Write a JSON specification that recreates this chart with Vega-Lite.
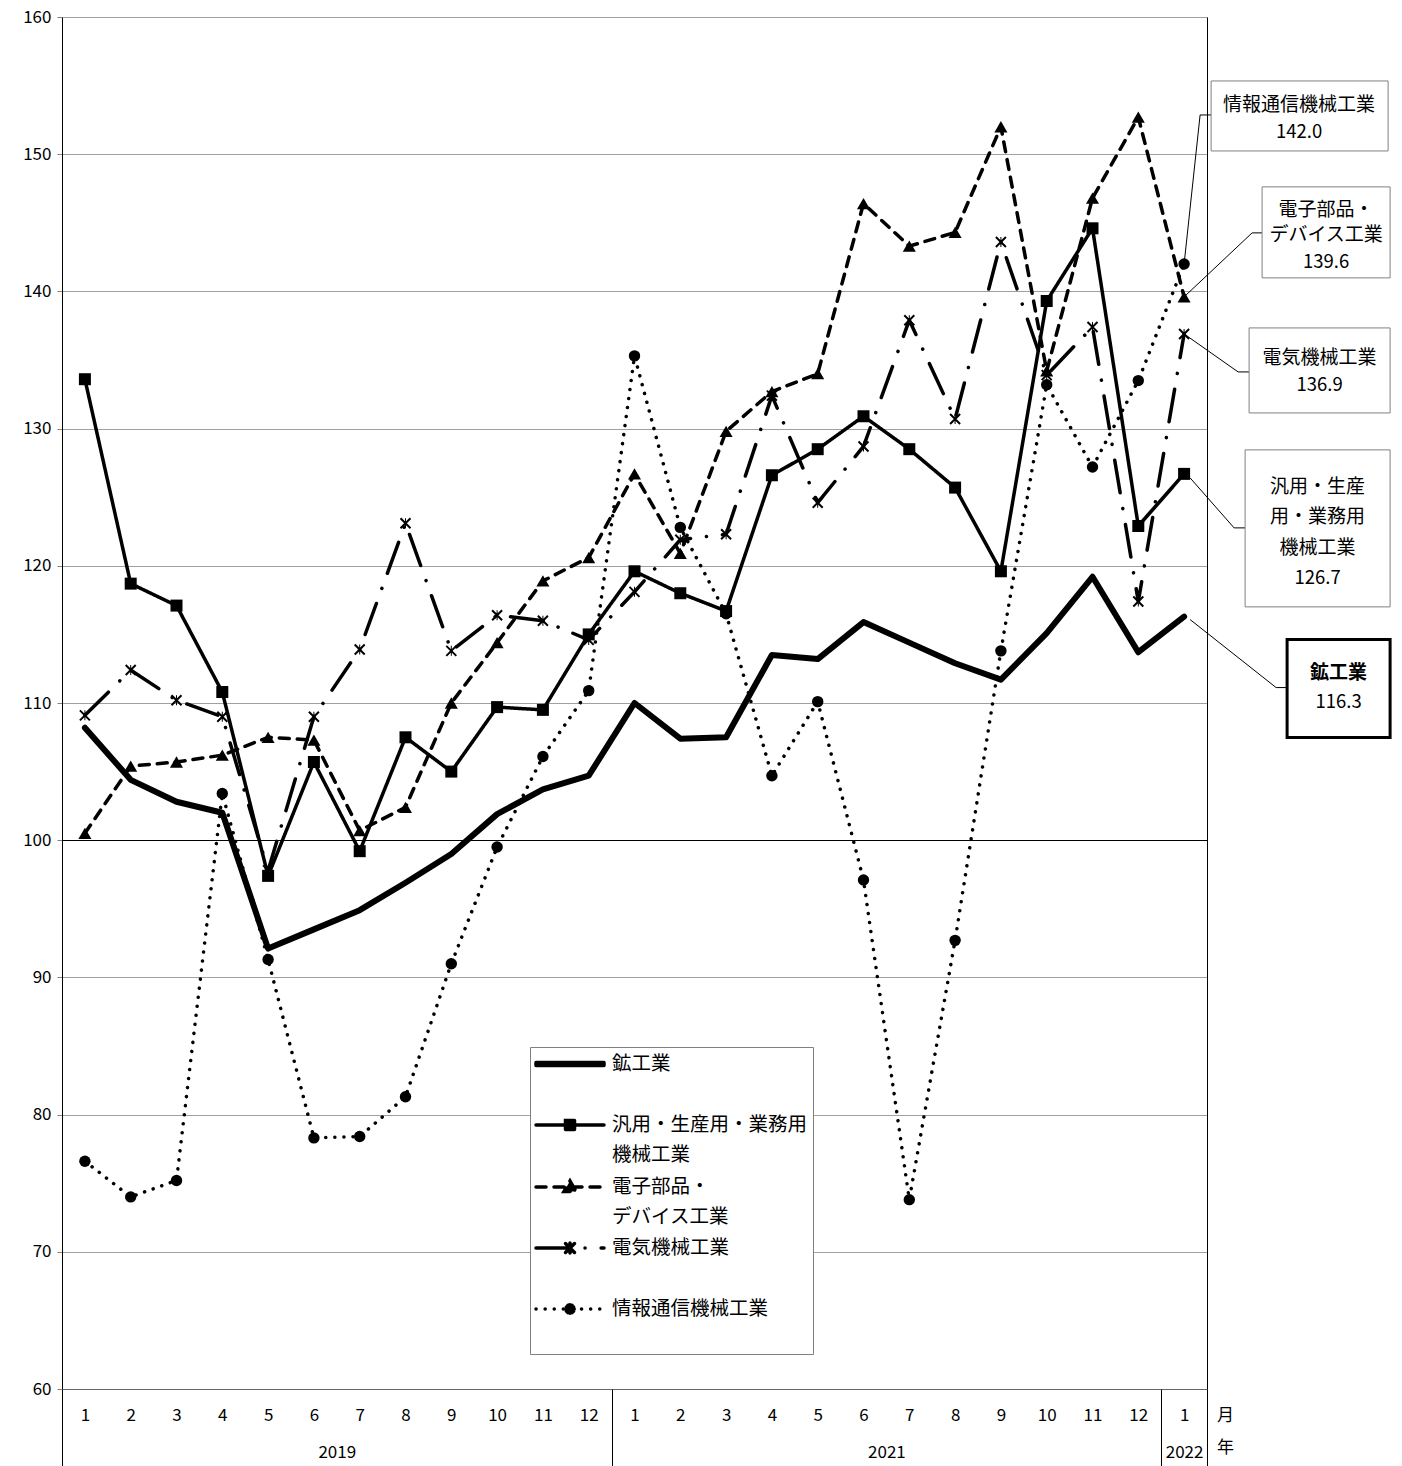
{
 "$schema": "https://vega.github.io/schema/vega-lite/v6.json",
 "width": 1145, "height": 1372,
 "autosize": {"type": "none"},
 "padding": {"left": 62, "top": 17, "right": 195, "bottom": 77},
 "background": "#ffffff",
 "config": {"view": {"stroke": null}, "font": "Noto Sans CJK JP",
   "axis": {"labelFont": "Noto Sans CJK JP", "titleFont": "Noto Sans CJK JP", "labelColor": "#000000", "titleColor": "#000000"},
   "legend": {"labelFont": "Noto Sans CJK JP"}},
 "datasets": {
  "main": [
{"series":"鉱工業","year":2019,"month":1,"t":1,"value":108.2},
{"series":"鉱工業","year":2019,"month":2,"t":2,"value":104.4},
{"series":"鉱工業","year":2019,"month":3,"t":3,"value":102.8},
{"series":"鉱工業","year":2019,"month":4,"t":4,"value":102.0},
{"series":"鉱工業","year":2019,"month":5,"t":5,"value":92.1},
{"series":"鉱工業","year":2019,"month":6,"t":6,"value":93.5},
{"series":"鉱工業","year":2019,"month":7,"t":7,"value":94.9},
{"series":"鉱工業","year":2019,"month":8,"t":8,"value":96.9},
{"series":"鉱工業","year":2019,"month":9,"t":9,"value":99.0},
{"series":"鉱工業","year":2019,"month":10,"t":10,"value":101.9},
{"series":"鉱工業","year":2019,"month":11,"t":11,"value":103.7},
{"series":"鉱工業","year":2019,"month":12,"t":12,"value":104.7},
{"series":"鉱工業","year":2021,"month":1,"t":13,"value":110.0},
{"series":"鉱工業","year":2021,"month":2,"t":14,"value":107.4},
{"series":"鉱工業","year":2021,"month":3,"t":15,"value":107.5},
{"series":"鉱工業","year":2021,"month":4,"t":16,"value":113.5},
{"series":"鉱工業","year":2021,"month":5,"t":17,"value":113.2},
{"series":"鉱工業","year":2021,"month":6,"t":18,"value":115.9},
{"series":"鉱工業","year":2021,"month":7,"t":19,"value":114.4},
{"series":"鉱工業","year":2021,"month":8,"t":20,"value":112.9},
{"series":"鉱工業","year":2021,"month":9,"t":21,"value":111.7},
{"series":"鉱工業","year":2021,"month":10,"t":22,"value":115.1},
{"series":"鉱工業","year":2021,"month":11,"t":23,"value":119.2},
{"series":"鉱工業","year":2021,"month":12,"t":24,"value":113.7},
{"series":"鉱工業","year":2022,"month":1,"t":25,"value":116.3},
{"series":"汎用・生産用・業務用機械工業","year":2019,"month":1,"t":1,"value":133.6},
{"series":"汎用・生産用・業務用機械工業","year":2019,"month":2,"t":2,"value":118.7},
{"series":"汎用・生産用・業務用機械工業","year":2019,"month":3,"t":3,"value":117.1},
{"series":"汎用・生産用・業務用機械工業","year":2019,"month":4,"t":4,"value":110.8},
{"series":"汎用・生産用・業務用機械工業","year":2019,"month":5,"t":5,"value":97.4},
{"series":"汎用・生産用・業務用機械工業","year":2019,"month":6,"t":6,"value":105.7},
{"series":"汎用・生産用・業務用機械工業","year":2019,"month":7,"t":7,"value":99.2},
{"series":"汎用・生産用・業務用機械工業","year":2019,"month":8,"t":8,"value":107.5},
{"series":"汎用・生産用・業務用機械工業","year":2019,"month":9,"t":9,"value":105.0},
{"series":"汎用・生産用・業務用機械工業","year":2019,"month":10,"t":10,"value":109.7},
{"series":"汎用・生産用・業務用機械工業","year":2019,"month":11,"t":11,"value":109.5},
{"series":"汎用・生産用・業務用機械工業","year":2019,"month":12,"t":12,"value":115.0},
{"series":"汎用・生産用・業務用機械工業","year":2021,"month":1,"t":13,"value":119.6},
{"series":"汎用・生産用・業務用機械工業","year":2021,"month":2,"t":14,"value":118.0},
{"series":"汎用・生産用・業務用機械工業","year":2021,"month":3,"t":15,"value":116.7},
{"series":"汎用・生産用・業務用機械工業","year":2021,"month":4,"t":16,"value":126.6},
{"series":"汎用・生産用・業務用機械工業","year":2021,"month":5,"t":17,"value":128.5},
{"series":"汎用・生産用・業務用機械工業","year":2021,"month":6,"t":18,"value":130.9},
{"series":"汎用・生産用・業務用機械工業","year":2021,"month":7,"t":19,"value":128.5},
{"series":"汎用・生産用・業務用機械工業","year":2021,"month":8,"t":20,"value":125.7},
{"series":"汎用・生産用・業務用機械工業","year":2021,"month":9,"t":21,"value":119.6},
{"series":"汎用・生産用・業務用機械工業","year":2021,"month":10,"t":22,"value":139.3},
{"series":"汎用・生産用・業務用機械工業","year":2021,"month":11,"t":23,"value":144.6},
{"series":"汎用・生産用・業務用機械工業","year":2021,"month":12,"t":24,"value":122.9},
{"series":"汎用・生産用・業務用機械工業","year":2022,"month":1,"t":25,"value":126.7},
{"series":"電子部品・デバイス工業","year":2019,"month":1,"t":1,"value":100.5},
{"series":"電子部品・デバイス工業","year":2019,"month":2,"t":2,"value":105.4},
{"series":"電子部品・デバイス工業","year":2019,"month":3,"t":3,"value":105.7},
{"series":"電子部品・デバイス工業","year":2019,"month":4,"t":4,"value":106.2},
{"series":"電子部品・デバイス工業","year":2019,"month":5,"t":5,"value":107.5},
{"series":"電子部品・デバイス工業","year":2019,"month":6,"t":6,"value":107.3},
{"series":"電子部品・デバイス工業","year":2019,"month":7,"t":7,"value":100.7},
{"series":"電子部品・デバイス工業","year":2019,"month":8,"t":8,"value":102.4},
{"series":"電子部品・デバイス工業","year":2019,"month":9,"t":9,"value":110.0},
{"series":"電子部品・デバイス工業","year":2019,"month":10,"t":10,"value":114.4},
{"series":"電子部品・デバイス工業","year":2019,"month":11,"t":11,"value":118.9},
{"series":"電子部品・デバイス工業","year":2019,"month":12,"t":12,"value":120.6},
{"series":"電子部品・デバイス工業","year":2021,"month":1,"t":13,"value":126.7},
{"series":"電子部品・デバイス工業","year":2021,"month":2,"t":14,"value":120.9},
{"series":"電子部品・デバイス工業","year":2021,"month":3,"t":15,"value":129.8},
{"series":"電子部品・デバイス工業","year":2021,"month":4,"t":16,"value":132.7},
{"series":"電子部品・デバイス工業","year":2021,"month":5,"t":17,"value":134.0},
{"series":"電子部品・デバイス工業","year":2021,"month":6,"t":18,"value":146.4},
{"series":"電子部品・デバイス工業","year":2021,"month":7,"t":19,"value":143.3},
{"series":"電子部品・デバイス工業","year":2021,"month":8,"t":20,"value":144.3},
{"series":"電子部品・デバイス工業","year":2021,"month":9,"t":21,"value":152.0},
{"series":"電子部品・デバイス工業","year":2021,"month":10,"t":22,"value":134.2},
{"series":"電子部品・デバイス工業","year":2021,"month":11,"t":23,"value":146.8},
{"series":"電子部品・デバイス工業","year":2021,"month":12,"t":24,"value":152.7},
{"series":"電子部品・デバイス工業","year":2022,"month":1,"t":25,"value":139.6},
{"series":"電気機械工業","year":2019,"month":1,"t":1,"value":109.1},
{"series":"電気機械工業","year":2019,"month":2,"t":2,"value":112.4},
{"series":"電気機械工業","year":2019,"month":3,"t":3,"value":110.2},
{"series":"電気機械工業","year":2019,"month":4,"t":4,"value":109.0},
{"series":"電気機械工業","year":2019,"month":5,"t":5,"value":97.8},
{"series":"電気機械工業","year":2019,"month":6,"t":6,"value":109.0},
{"series":"電気機械工業","year":2019,"month":7,"t":7,"value":113.9},
{"series":"電気機械工業","year":2019,"month":8,"t":8,"value":123.1},
{"series":"電気機械工業","year":2019,"month":9,"t":9,"value":113.8},
{"series":"電気機械工業","year":2019,"month":10,"t":10,"value":116.4},
{"series":"電気機械工業","year":2019,"month":11,"t":11,"value":116.0},
{"series":"電気機械工業","year":2019,"month":12,"t":12,"value":114.6},
{"series":"電気機械工業","year":2021,"month":1,"t":13,"value":118.1},
{"series":"電気機械工業","year":2021,"month":2,"t":14,"value":121.9},
{"series":"電気機械工業","year":2021,"month":3,"t":15,"value":122.3},
{"series":"電気機械工業","year":2021,"month":4,"t":16,"value":132.4},
{"series":"電気機械工業","year":2021,"month":5,"t":17,"value":124.6},
{"series":"電気機械工業","year":2021,"month":6,"t":18,"value":128.7},
{"series":"電気機械工業","year":2021,"month":7,"t":19,"value":137.9},
{"series":"電気機械工業","year":2021,"month":8,"t":20,"value":130.7},
{"series":"電気機械工業","year":2021,"month":9,"t":21,"value":143.6},
{"series":"電気機械工業","year":2021,"month":10,"t":22,"value":133.9},
{"series":"電気機械工業","year":2021,"month":11,"t":23,"value":137.4},
{"series":"電気機械工業","year":2021,"month":12,"t":24,"value":117.4},
{"series":"電気機械工業","year":2022,"month":1,"t":25,"value":136.9},
{"series":"情報通信機械工業","year":2019,"month":1,"t":1,"value":76.6},
{"series":"情報通信機械工業","year":2019,"month":2,"t":2,"value":74.0},
{"series":"情報通信機械工業","year":2019,"month":3,"t":3,"value":75.2},
{"series":"情報通信機械工業","year":2019,"month":4,"t":4,"value":103.4},
{"series":"情報通信機械工業","year":2019,"month":5,"t":5,"value":91.3},
{"series":"情報通信機械工業","year":2019,"month":6,"t":6,"value":78.3},
{"series":"情報通信機械工業","year":2019,"month":7,"t":7,"value":78.4},
{"series":"情報通信機械工業","year":2019,"month":8,"t":8,"value":81.3},
{"series":"情報通信機械工業","year":2019,"month":9,"t":9,"value":91.0},
{"series":"情報通信機械工業","year":2019,"month":10,"t":10,"value":99.5},
{"series":"情報通信機械工業","year":2019,"month":11,"t":11,"value":106.1},
{"series":"情報通信機械工業","year":2019,"month":12,"t":12,"value":110.9},
{"series":"情報通信機械工業","year":2021,"month":1,"t":13,"value":135.3},
{"series":"情報通信機械工業","year":2021,"month":2,"t":14,"value":122.8},
{"series":"情報通信機械工業","year":2021,"month":3,"t":15,"value":116.5},
{"series":"情報通信機械工業","year":2021,"month":4,"t":16,"value":104.7},
{"series":"情報通信機械工業","year":2021,"month":5,"t":17,"value":110.1},
{"series":"情報通信機械工業","year":2021,"month":6,"t":18,"value":97.1},
{"series":"情報通信機械工業","year":2021,"month":7,"t":19,"value":73.8},
{"series":"情報通信機械工業","year":2021,"month":8,"t":20,"value":92.7},
{"series":"情報通信機械工業","year":2021,"month":9,"t":21,"value":113.8},
{"series":"情報通信機械工業","year":2021,"month":10,"t":22,"value":133.2},
{"series":"情報通信機械工業","year":2021,"month":11,"t":23,"value":127.2},
{"series":"情報通信機械工業","year":2021,"month":12,"t":24,"value":133.5},
{"series":"情報通信機械工業","year":2022,"month":1,"t":25,"value":142.0}
  ],
  "callouts": [
{"series":"情報通信機械工業","t":25,"value":142.0,"label":"情報通信機械工業"},
{"series":"電子部品・デバイス工業","t":25,"value":139.6,"label":"電子部品・\nデバイス工業"},
{"series":"電気機械工業","t":25,"value":136.9,"label":"電気機械工業"},
{"series":"汎用・生産用・業務用機械工業","t":25,"value":126.7,"label":"汎用・生産\n用・業務用\n機械工業"},
{"series":"鉱工業","t":25,"value":116.3,"label":"鉱工業"}
  ]
 },
 "data": {"name": "main"},
 "resolve": {"axis": {"x": "independent", "y": "independent"}},
 "layer": [
  {
   "transform": [{"filter": {"field": "series", "equal": "鉱工業"}}],
   "mark": {"type": "line", "color": "#000000", "strokeWidth": 6, "strokeCap": "round", "strokeJoin": "round"},
   "encoding": {
    "x": {"field": "t", "type": "quantitative", "scale": {"domain": [0.5, 25.5], "nice": false, "zero": false},
      "axis": {"orient": "bottom", "values": [1,2,3,4,5,6,7,8,9,10,11,12,13,14,15,16,17,18,19,20,21,22,23,24,25],
        "labelExpr": "'' + (datum.value <= 12 ? datum.value : datum.value <= 24 ? datum.value - 12 : 1)",
        "grid": false, "ticks": false, "tickSize": 0, "domain": true, "domainColor": "#666666",
        "labelFontSize": 17, "labelBaseline": "middle", "labelPadding": 26, "labelFlush": false, "labelOverlap": false,
        "title": "月", "titleFontSize": 17, "titleFontWeight": "normal", "titleX": 1163, "titleY": 26,
        "titleAlign": "center", "titleBaseline": "middle", "titleAngle": 0}},
    "y": {"field": "value", "type": "quantitative", "scale": {"domain": [60, 160], "nice": false, "zero": false},
      "axis": {"orient": "left", "values": [60,70,80,90,100,110,120,130,140,150,160], "grid": true,
        "gridColor": {"condition": {"test": "datum.value === 100", "value": "#000000"}, "value": "#a0a0a0"},
        "domain": true, "domainColor": "#000000", "ticks": true, "tickSize": 5, "tickColor": "#808080",
        "labelFontSize": 17, "labelPadding": 6, "labelFlush": false, "title": null}}
   }
  },
  {
   "mark": {"type": "line", "color": "#000000", "strokeWidth": 3.5, "strokeCap": "round", "strokeJoin": "round"},
   "encoding": {
    "x": {"field": "t", "type": "quantitative",
      "axis": {"orient": "bottom", "values": [6.5, 18.5, 25],
        "labelExpr": "datum.value < 12 ? '2019' : datum.value < 24 ? '2021' : '2022'",
        "grid": false, "ticks": false, "tickSize": 0, "domain": false,
        "labelFontSize": 17, "labelBaseline": "middle", "labelPadding": 63, "labelFlush": false, "labelOverlap": false,
        "title": "年", "titleFontSize": 17, "titleFontWeight": "normal", "titleX": 1163, "titleY": 58,
        "titleAlign": "center", "titleBaseline": "middle", "titleAngle": 0}},
    "y": {"field": "value", "type": "quantitative", "axis": null},
    "strokeDash": {"field": "series", "type": "nominal",
      "scale": {"domain": ["鉱工業", "汎用・生産用・業務用機械工業", "電子部品・デバイス工業", "電気機械工業", "情報通信機械工業"],
        "range": [[1, 0], [1, 0], [10, 8], [33, 16, 0.1, 16], [0.1, 9]]},
      "legend": {"orient": "none", "legendX": 468, "legendY": 1030, "title": null, "direction": "vertical",
        "fillColor": "#ffffff", "strokeColor": "#808080", "padding": 5,
        "symbolSize": 400, "symbolStrokeWidth": 3.5, "symbolOffset": 23, "labelOffset": 30,
        "labelFontSize": 19.5, "labelLimit": 400, "rowPadding": 9, "labelBaseline": "middle", "labelColor": "#000000",
        "labelExpr": "datum.value === '汎用・生産用・業務用機械工業' ? ['汎用・生産用・業務用', '機械工業'] : datum.value === '電子部品・デバイス工業' ? ['電子部品・', 'デバイス工業'] : [datum.label, '']",
        "encoding": {
          "symbols": {
            "shape": {"condition": [
              {"test": "datum.value === '鉱工業'", "value": "M-3.4,-0.15L3.4,-0.15L3.4,0.15L-3.4,0.15Z"},
              {"test": "datum.value === '汎用・生産用・業務用機械工業'", "value": "M-3.4,0L3.4,0M-0.45,-0.45L0.45,-0.45L0.45,0.45L-0.45,0.45Z"},
              {"test": "datum.value === '電子部品・デバイス工業'", "value": "M-3.4,0L3.4,0M0,-0.6L0.6,0.45L-0.6,0.45Z"},
              {"test": "datum.value === '電気機械工業'", "value": "M-3.4,0L3.4,0M-0.45,-0.45L0.45,0.45M-0.45,0.45L0.45,-0.45M0,-0.5L0,0.5"}
            ], "value": "M-3.4,0L3.4,0M0.42,0L0.364,0.21L0.21,0.364L0,0.42L-0.21,0.364L-0.364,0.21L-0.42,0L-0.364,-0.21L-0.21,-0.364L0,-0.42L0.21,-0.364L0.364,-0.21ZM0.364,0.21l0,0.01M0.21,0.364l0,0.01M0,0.42l0,0.01M-0.21,0.364l0,0.01M-0.364,0.21l0,0.01M-0.42,0l0,0.01M-0.364,-0.21l0,0.01M-0.21,-0.364l0,0.01M0,-0.42l0,0.01M0.21,-0.364l0,0.01M0.364,-0.21l0,0.01"},
            "fill": {"value": "#000000"}, "stroke": {"value": "#000000"}, "strokeCap": {"value": "round"}, "opacity": {"value": 1}},
          "labels": {"lineHeight": {"value": 30}}
        }}}
   }
  },
  {
   "transform": [{"filter": {"field": "series", "equal": "汎用・生産用・業務用機械工業"}}],
   "mark": {"type": "point", "shape": "square", "size": 144, "filled": true, "color": "#000000", "opacity": 1},
   "encoding": {
    "x": {"field": "t", "type": "quantitative",
      "axis": {"orient": "bottom", "values": [0.5, 12.5, 24.5, 25.5], "labels": false, "grid": false, "domain": false,
        "ticks": true, "tickSize": 77, "tickColor": "#000000", "tickWidth": 1, "title": null}},
    "y": {"field": "value", "type": "quantitative", "axis": null}
   }
  },
  {
   "transform": [{"filter": {"field": "series", "equal": "電子部品・デバイス工業"}}],
   "mark": {"type": "point", "shape": "triangle-up", "size": 170, "filled": true, "color": "#000000", "opacity": 1},
   "encoding": {
    "x": {"field": "t", "type": "quantitative", "axis": null},
    "y": {"field": "value", "type": "quantitative",
      "axis": {"orient": "right", "labels": false, "ticks": false, "grid": false, "domain": true, "domainColor": "#000000", "title": null}}
   }
  },
  {
   "transform": [{"filter": {"field": "series", "equal": "電気機械工業"}}],
   "mark": {"type": "point", "shape": "M-1.14,-0.86L0.86,1.14L1.14,0.86L-0.86,-1.14ZM-0.86,1.14L1.14,-0.86L0.86,-1.14L-1.14,0.86ZM-0.1,-1L-0.1,1L0.1,1L0.1,-1Z", "size": 100, "filled": true, "color": "#000000", "opacity": 1},
   "encoding": {
    "x": {"field": "t", "type": "quantitative", "axis": null},
    "y": {"field": "value", "type": "quantitative", "axis": null}
   }
  },
  {
   "transform": [{"filter": {"field": "series", "equal": "情報通信機械工業"}}],
   "mark": {"type": "point", "shape": "circle", "size": 130, "filled": true, "color": "#000000", "opacity": 1},
   "encoding": {
    "x": {"field": "t", "type": "quantitative", "axis": null},
    "y": {"field": "value", "type": "quantitative", "axis": null}
   }
  },
  {
   "data": {"name": "callouts"},
   "transform": [{"filter": {"field": "series", "equal": "情報通信機械工業"}}],
   "encoding": {
    "x": {"field": "t", "type": "quantitative", "axis": null},
    "y": {"field": "value", "type": "quantitative", "axis": null}
   },
   "layer": [
    {"mark": {"type": "rule", "color": "#000000", "strokeWidth": 1, "x2Offset": 16, "y2Offset": -149},
     "encoding": {"x2": {"field": "t"}, "y2": {"field": "value"}}},
    {"mark": {"type": "rule", "color": "#000000", "strokeWidth": 1, "xOffset": 16, "yOffset": -149, "x2Offset": 27, "y2Offset": -149},
     "encoding": {"x2": {"field": "t"}, "y2": {"field": "value"}}},
    {"mark": {"type": "rect", "fill": "#ffffff", "stroke": "#808080", "strokeWidth": 1, "xOffset": 27, "x2Offset": 204, "yOffset": -183, "y2Offset": -113},
     "encoding": {"x2": {"field": "t"}, "y2": {"field": "value"}}},
    {"mark": {"type": "text", "font": "Noto Sans CJK JP", "fontSize": 19, "color": "#000000", "align": "center", "baseline": "middle", "dx": 115, "dy": -159},
     "encoding": {"text": {"field": "label"}}},
    {"mark": {"type": "text", "font": "Noto Sans CJK JP", "fontSize": 18.5, "color": "#000000", "align": "center", "baseline": "middle", "dx": 115, "dy": -132},
     "encoding": {"text": {"field": "value", "format": ".1f"}}}
   ]
  },
  {
   "data": {"name": "callouts"},
   "transform": [{"filter": {"field": "series", "equal": "電子部品・デバイス工業"}}],
   "encoding": {
    "x": {"field": "t", "type": "quantitative", "axis": null},
    "y": {"field": "value", "type": "quantitative", "axis": null}
   },
   "layer": [
    {"mark": {"type": "rule", "color": "#000000", "strokeWidth": 1, "x2Offset": 68, "y2Offset": -64},
     "encoding": {"x2": {"field": "t"}, "y2": {"field": "value"}}},
    {"mark": {"type": "rule", "color": "#000000", "strokeWidth": 1, "xOffset": 68, "yOffset": -64, "x2Offset": 78, "y2Offset": -64},
     "encoding": {"x2": {"field": "t"}, "y2": {"field": "value"}}},
    {"mark": {"type": "rect", "fill": "#ffffff", "stroke": "#808080", "strokeWidth": 1, "xOffset": 78, "x2Offset": 206, "yOffset": -110, "y2Offset": -19},
     "encoding": {"x2": {"field": "t"}, "y2": {"field": "value"}}},
    {"mark": {"type": "text", "font": "Noto Sans CJK JP", "fontSize": 19, "color": "#000000", "align": "center", "baseline": "middle", "lineBreak": "\n", "lineHeight": 25, "dx": 142, "dy": -87},
     "encoding": {"text": {"field": "label"}}},
    {"mark": {"type": "text", "font": "Noto Sans CJK JP", "fontSize": 18.5, "color": "#000000", "align": "center", "baseline": "middle", "dx": 142, "dy": -35},
     "encoding": {"text": {"field": "value", "format": ".1f"}}}
   ]
  },
  {
   "data": {"name": "callouts"},
   "transform": [{"filter": {"field": "series", "equal": "電気機械工業"}}],
   "encoding": {
    "x": {"field": "t", "type": "quantitative", "axis": null},
    "y": {"field": "value", "type": "quantitative", "axis": null}
   },
   "layer": [
    {"mark": {"type": "rule", "color": "#000000", "strokeWidth": 1, "x2Offset": 54, "y2Offset": 38},
     "encoding": {"x2": {"field": "t"}, "y2": {"field": "value"}}},
    {"mark": {"type": "rule", "color": "#000000", "strokeWidth": 1, "xOffset": 54, "yOffset": 38, "x2Offset": 65, "y2Offset": 38},
     "encoding": {"x2": {"field": "t"}, "y2": {"field": "value"}}},
    {"mark": {"type": "rect", "fill": "#ffffff", "stroke": "#808080", "strokeWidth": 1, "xOffset": 65, "x2Offset": 206, "yOffset": -6, "y2Offset": 79},
     "encoding": {"x2": {"field": "t"}, "y2": {"field": "value"}}},
    {"mark": {"type": "text", "font": "Noto Sans CJK JP", "fontSize": 19, "color": "#000000", "align": "center", "baseline": "middle", "dx": 135.5, "dy": 24},
     "encoding": {"text": {"field": "label"}}},
    {"mark": {"type": "text", "font": "Noto Sans CJK JP", "fontSize": 18.5, "color": "#000000", "align": "center", "baseline": "middle", "dx": 135.5, "dy": 51},
     "encoding": {"text": {"field": "value", "format": ".1f"}}}
   ]
  },
  {
   "data": {"name": "callouts"},
   "transform": [{"filter": {"field": "series", "equal": "汎用・生産用・業務用機械工業"}}],
   "encoding": {
    "x": {"field": "t", "type": "quantitative", "axis": null},
    "y": {"field": "value", "type": "quantitative", "axis": null}
   },
   "layer": [
    {"mark": {"type": "rule", "color": "#000000", "strokeWidth": 1, "xOffset": 6, "yOffset": 4, "x2Offset": 50, "y2Offset": 54},
     "encoding": {"x2": {"field": "t"}, "y2": {"field": "value"}}},
    {"mark": {"type": "rule", "color": "#000000", "strokeWidth": 1, "xOffset": 50, "yOffset": 54, "x2Offset": 61, "y2Offset": 54},
     "encoding": {"x2": {"field": "t"}, "y2": {"field": "value"}}},
    {"mark": {"type": "rect", "fill": "#ffffff", "stroke": "#808080", "strokeWidth": 1, "xOffset": 61, "x2Offset": 206, "yOffset": -24, "y2Offset": 133},
     "encoding": {"x2": {"field": "t"}, "y2": {"field": "value"}}},
    {"mark": {"type": "text", "font": "Noto Sans CJK JP", "fontSize": 19, "color": "#000000", "align": "center", "baseline": "middle", "lineBreak": "\n", "lineHeight": 30.5, "dx": 133.5, "dy": 13},
     "encoding": {"text": {"field": "label"}}},
    {"mark": {"type": "text", "font": "Noto Sans CJK JP", "fontSize": 18.5, "color": "#000000", "align": "center", "baseline": "middle", "dx": 133.5, "dy": 104},
     "encoding": {"text": {"field": "value", "format": ".1f"}}}
   ]
  },
  {
   "data": {"name": "callouts"},
   "transform": [{"filter": {"field": "series", "equal": "鉱工業"}}],
   "encoding": {
    "x": {"field": "t", "type": "quantitative", "axis": null},
    "y": {"field": "value", "type": "quantitative", "axis": null}
   },
   "layer": [
    {"mark": {"type": "rule", "color": "#000000", "strokeWidth": 1, "xOffset": 6, "yOffset": 3, "x2Offset": 92, "y2Offset": 71},
     "encoding": {"x2": {"field": "t"}, "y2": {"field": "value"}}},
    {"mark": {"type": "rule", "color": "#000000", "strokeWidth": 1, "xOffset": 92, "yOffset": 71, "x2Offset": 103, "y2Offset": 71},
     "encoding": {"x2": {"field": "t"}, "y2": {"field": "value"}}},
    {"mark": {"type": "rect", "fill": "#ffffff", "stroke": "#000000", "strokeWidth": 3, "xOffset": 103, "x2Offset": 206, "yOffset": 23, "y2Offset": 121},
     "encoding": {"x2": {"field": "t"}, "y2": {"field": "value"}}},
    {"mark": {"type": "text", "font": "Noto Sans CJK JP", "fontSize": 19, "fontWeight": "bold", "color": "#000000", "align": "center", "baseline": "middle", "dx": 154.5, "dy": 56},
     "encoding": {"text": {"field": "label"}}},
    {"mark": {"type": "text", "font": "Noto Sans CJK JP", "fontSize": 18.5, "color": "#000000", "align": "center", "baseline": "middle", "dx": 154.5, "dy": 85},
     "encoding": {"text": {"field": "value", "format": ".1f"}}}
   ]
  }
 ]
}
